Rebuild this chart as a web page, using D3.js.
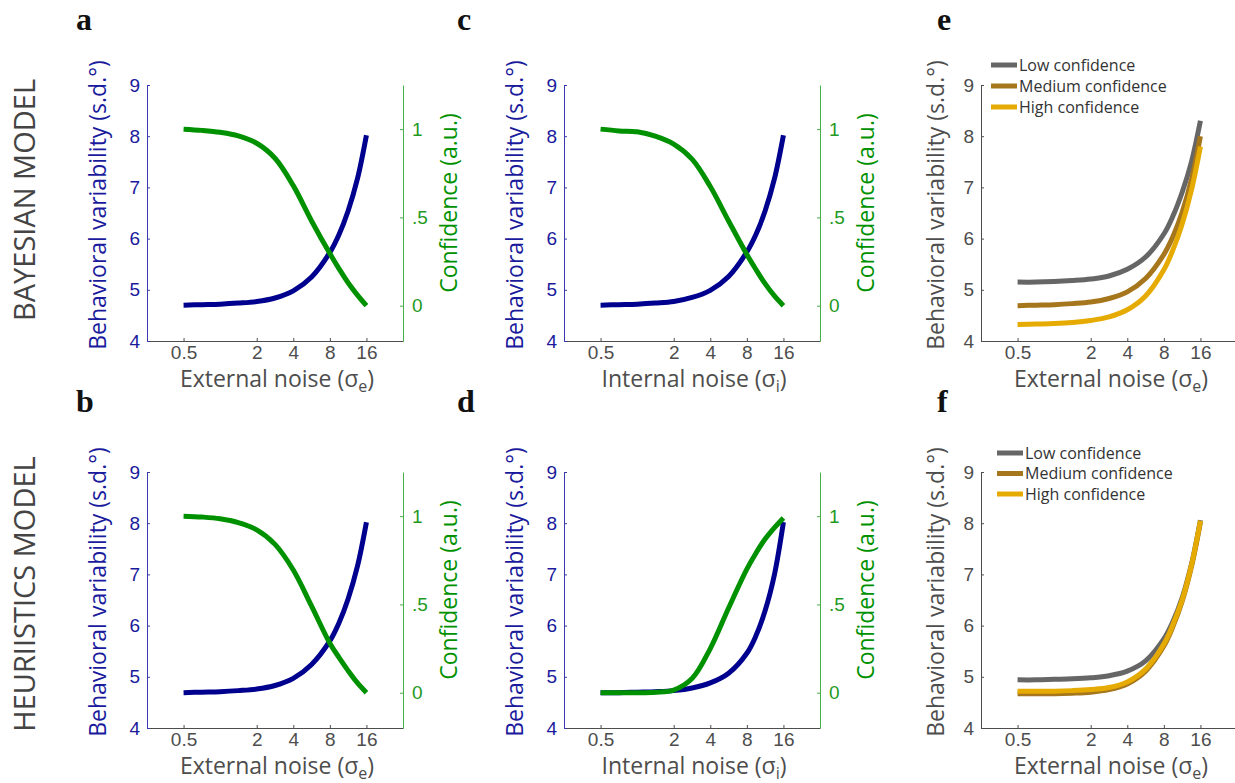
<!DOCTYPE html>
<html>
<head>
<meta charset="utf-8">
<script src="https://cdn.jsdelivr.net/npm/d3@7"></script>
<style>
  body { margin: 0; background: #fff; }
  svg { display: block; font-family: "Open Sans", "Noto Sans", sans-serif; }
</style>
</head>
<body>
<svg id="fig" width="1235" height="783"></svg>
<script>
const noiseLevels = [0.5, 0.71, 1, 1.41, 2, 2.83, 4, 5.66, 8, 9.5, 11.3, 13.5, 16];
const xTicks = [0.5, 2, 4, 8, 16];
const varTicks = [4, 5, 6, 7, 8, 9];
const confTicks = [0, 0.5, 1];
const confTickLabels = ["0", ".5", "1"];

// a - bayesian, external noise
const bayesExtVar  = [4.70, 4.71, 4.72, 4.74, 4.77, 4.84, 4.98, 5.25, 5.73, 6.075, 6.54, 7.17, 8.02];
const bayesExtConf = [1.00, 0.993, 0.982, 0.962, 0.92, 0.835, 0.68, 0.48, 0.295, 0.21, 0.13, 0.06, 0.0];
// c - bayesian, internal noise
const bayesIntVar  = [4.70, 4.71, 4.72, 4.74, 4.77, 4.85, 4.99, 5.26, 5.74, 6.08, 6.54, 7.17, 8.02];
const bayesIntConf = [1.00, 0.99, 0.985, 0.96, 0.915, 0.83, 0.675, 0.48, 0.29, 0.205, 0.125, 0.055, 0.0];
// b - heuristics, external noise
const heurExtVar  = [4.69, 4.70, 4.71, 4.73, 4.76, 4.83, 4.97, 5.24, 5.70, 6.05, 6.52, 7.16, 8.02];
const heurExtConf = [1.00, 0.995, 0.985, 0.963, 0.922, 0.84, 0.695, 0.49, 0.28, 0.20, 0.125, 0.055, 0.0];
// d - heuristics, internal noise
const heurIntVar  = [4.69, 4.69, 4.70, 4.71, 4.73, 4.78, 4.88, 5.07, 5.46, 5.80, 6.29, 7.00, 8.02];
const heurIntConf = [0.0, 0.0, 0.0, 0.003, 0.015, 0.08, 0.25, 0.48, 0.70, 0.79, 0.87, 0.935, 0.99];

// e - bayesian, split by confidence
const bayesLow  = [5.15, 5.15, 5.16, 5.18, 5.21, 5.27, 5.40, 5.64, 6.09, 6.44, 6.90, 7.50, 8.30];
const bayesMed  = [4.69, 4.70, 4.71, 4.73, 4.76, 4.83, 4.96, 5.22, 5.69, 6.04, 6.51, 7.15, 8.00];
const bayesHigh = [4.32, 4.33, 4.34, 4.36, 4.40, 4.47, 4.61, 4.88, 5.39, 5.78, 6.28, 6.95, 7.80];
// f - heuristics, split by confidence
const heurLow  = [4.94, 4.94, 4.95, 4.96, 4.98, 5.02, 5.11, 5.31, 5.74, 6.08, 6.54, 7.20, 8.06];
const heurMed  = [4.67, 4.67, 4.67, 4.68, 4.70, 4.75, 4.86, 5.11, 5.60, 5.98, 6.47, 7.15, 8.02];
const heurHigh = [4.72, 4.72, 4.72, 4.73, 4.75, 4.79, 4.90, 5.15, 5.64, 6.02, 6.50, 7.18, 8.05];

const legendLabels = ["Low confidence", "Medium confidence", "High confidence"];
const rowLabels = ["BAYESIAN MODEL", "HEURIISTICS MODEL"];

// colours
const blue = "#00008f", blueTxt = "#1a1a9c", blueAx = "#3a3ab0";
const green = "#009100", greenTxt = "#1f9a1f", greenAx = "#45b045";
const grey = "#4d4d4d";
const confColors = ["#666666", "#a6761d", "#e6ab02"];

const svg = d3.select("#fig");
const W = 256, H = 256;

function zip(xs, ys) { return xs.map((x, i) => ({x: x, y: ys[i]})); }

function panel(p) {
  const g = svg.append("g").attr("transform", `translate(${p.left},${p.top})`);
  const x = d3.scaleLog().base(2).domain([0.25, 32]).range([0, W]);
  const y = d3.scaleLinear().domain([4, 9]).range([H, 0]);
  const leftCol = p.twin ? blueTxt : grey;
  const leftAx = p.twin ? blueAx : grey;

  // x axis
  const xa = g.append("g").attr("transform", `translate(0,${H})`)
    .call(d3.axisBottom(x).tickValues(xTicks).tickFormat(d3.format("")).tickSizeInner(-3).tickSizeOuter(0).tickPadding(5));
  xa.select(".domain").attr("stroke", grey);
  xa.selectAll(".tick line").attr("stroke", grey);
  xa.selectAll(".tick text").attr("fill", grey).style("font-size", "19px").style("font-family", "inherit");

  // left y
  const ya = g.append("g")
    .call(d3.axisLeft(y).tickValues(varTicks).tickFormat(d3.format("d")).tickSizeInner(-3).tickSizeOuter(0).tickPadding(7));
  ya.select(".domain").attr("stroke", leftAx);
  ya.selectAll(".tick line").attr("stroke", leftAx);
  ya.selectAll(".tick text").attr("fill", leftCol).style("font-size", "19px").style("font-family", "inherit");

  g.append("text")
    .attr("transform", `translate(${-p.ylabOff},${H / 2 - 8}) rotate(-90)`)
    .attr("text-anchor", "middle").attr("fill", leftCol).style("font-size", "23px")
    .text("Behavioral variability (s.d.°)");

  const xl = g.append("text").attr("x", W / 2 + 2).attr("y", H + 46)
    .attr("text-anchor", "middle").attr("fill", grey).style("font-size", "23px");
  xl.append("tspan").text(p.xname + " (σ");
  xl.append("tspan").attr("dy", 5).style("font-size", "16px").text(p.sub);
  xl.append("tspan").attr("dy", -5).text(")");

  const line = d3.line().x(d => x(d.x)).y(d => y(d.y)).curve(d3.curveCatmullRom.alpha(0.5));

  if (p.twin) {
    const y2 = d3.scaleLinear().domain([-0.2, 1.25]).range([H, 0]);
    const ra = g.append("g").attr("transform", `translate(${W},0)`)
      .call(d3.axisRight(y2).tickValues(confTicks).tickFormat((d, i) => confTickLabels[i])
        .tickSizeInner(-3).tickSizeOuter(0).tickPadding(9));
    ra.select(".domain").attr("stroke", greenAx);
    ra.selectAll(".tick line").attr("stroke", greenAx);
    ra.selectAll(".tick text").attr("fill", greenTxt).style("font-size", "19px").style("font-family", "inherit");

    g.append("text")
      .attr("transform", `translate(${W + 54},${H / 2 - 10}) rotate(-90)`)
      .attr("text-anchor", "middle").attr("fill", green).style("font-size", "23px")
      .text("Confidence (a.u.)");

    const line2 = d3.line().x(d => x(d.x)).y(d => y2(d.y)).curve(d3.curveCatmullRom.alpha(0.5));
    g.append("path").datum(zip(noiseLevels, p.vari)).attr("d", line)
      .attr("fill", "none").attr("stroke", blue).attr("stroke-width", 5);
    g.append("path").datum(zip(noiseLevels, p.conf)).attr("d", line2)
      .attr("fill", "none").attr("stroke", green).attr("stroke-width", 5);
  } else {
    p.series.forEach((s, i) => {
      g.append("path").datum(zip(noiseLevels, s)).attr("d", line)
        .attr("fill", "none").attr("stroke", confColors[i]).attr("stroke-width", 5);
    });
    const lg = g.append("g").attr("transform", `translate(${p.legX},${p.legY})`);
    legendLabels.forEach((t, i) => {
      lg.append("line").attr("x1", 0).attr("x2", 26).attr("y1", i * p.legStep).attr("y2", i * p.legStep)
        .attr("stroke", confColors[i]).attr("stroke-width", 5);
      lg.append("text").attr("x", 28).attr("y", i * p.legStep).attr("dy", "0.36em")
        .attr("fill", "#333").style("font-size", "16px").text(t);
    });
  }

  svg.append("text").attr("x", p.letter[0]).attr("y", p.letter[1])
    .style("font-family", "'Liberation Serif', serif").style("font-size", "32px").style("font-weight", "bold")
    .attr("fill", "#111").text(p.name);
}

panel({name: "a", left: 147, top: 85, letter: [76, 30], twin: true, ylabOff: 41,
  xname: "External noise", sub: "e", vari: bayesExtVar, conf: bayesExtConf});
panel({name: "c", left: 564, top: 85, letter: [457, 30], twin: true, ylabOff: 41,
  xname: "Internal noise", sub: "i", vari: bayesIntVar, conf: bayesIntConf});
panel({name: "b", left: 147, top: 472, letter: [76, 412], twin: true, ylabOff: 41,
  xname: "External noise", sub: "e", vari: heurExtVar, conf: heurExtConf});
panel({name: "d", left: 564, top: 472, letter: [457, 412], twin: true, ylabOff: 41,
  xname: "Internal noise", sub: "i", vari: heurIntVar, conf: heurIntConf});
panel({name: "e", left: 981, top: 85, letter: [937, 30], twin: false, ylabOff: 37,
  xname: "External noise", sub: "e", series: [bayesLow, bayesMed, bayesHigh],
  legX: 10, legY: -20, legStep: 21});
panel({name: "f", left: 981, top: 472, letter: [937, 412], twin: false, ylabOff: 37,
  xname: "External noise", sub: "e", series: [heurLow, heurMed, heurHigh],
  legX: 16, legY: -19, legStep: 20.5});

// row labels
[200, 594].forEach((cy, i) => {
  svg.append("text")
    .attr("transform", `translate(35,${cy}) rotate(-90)`)
    .attr("text-anchor", "middle").attr("fill", "#444").style("font-size", "29px")
    .text(rowLabels[i]);
});
</script>
</body>
</html>
